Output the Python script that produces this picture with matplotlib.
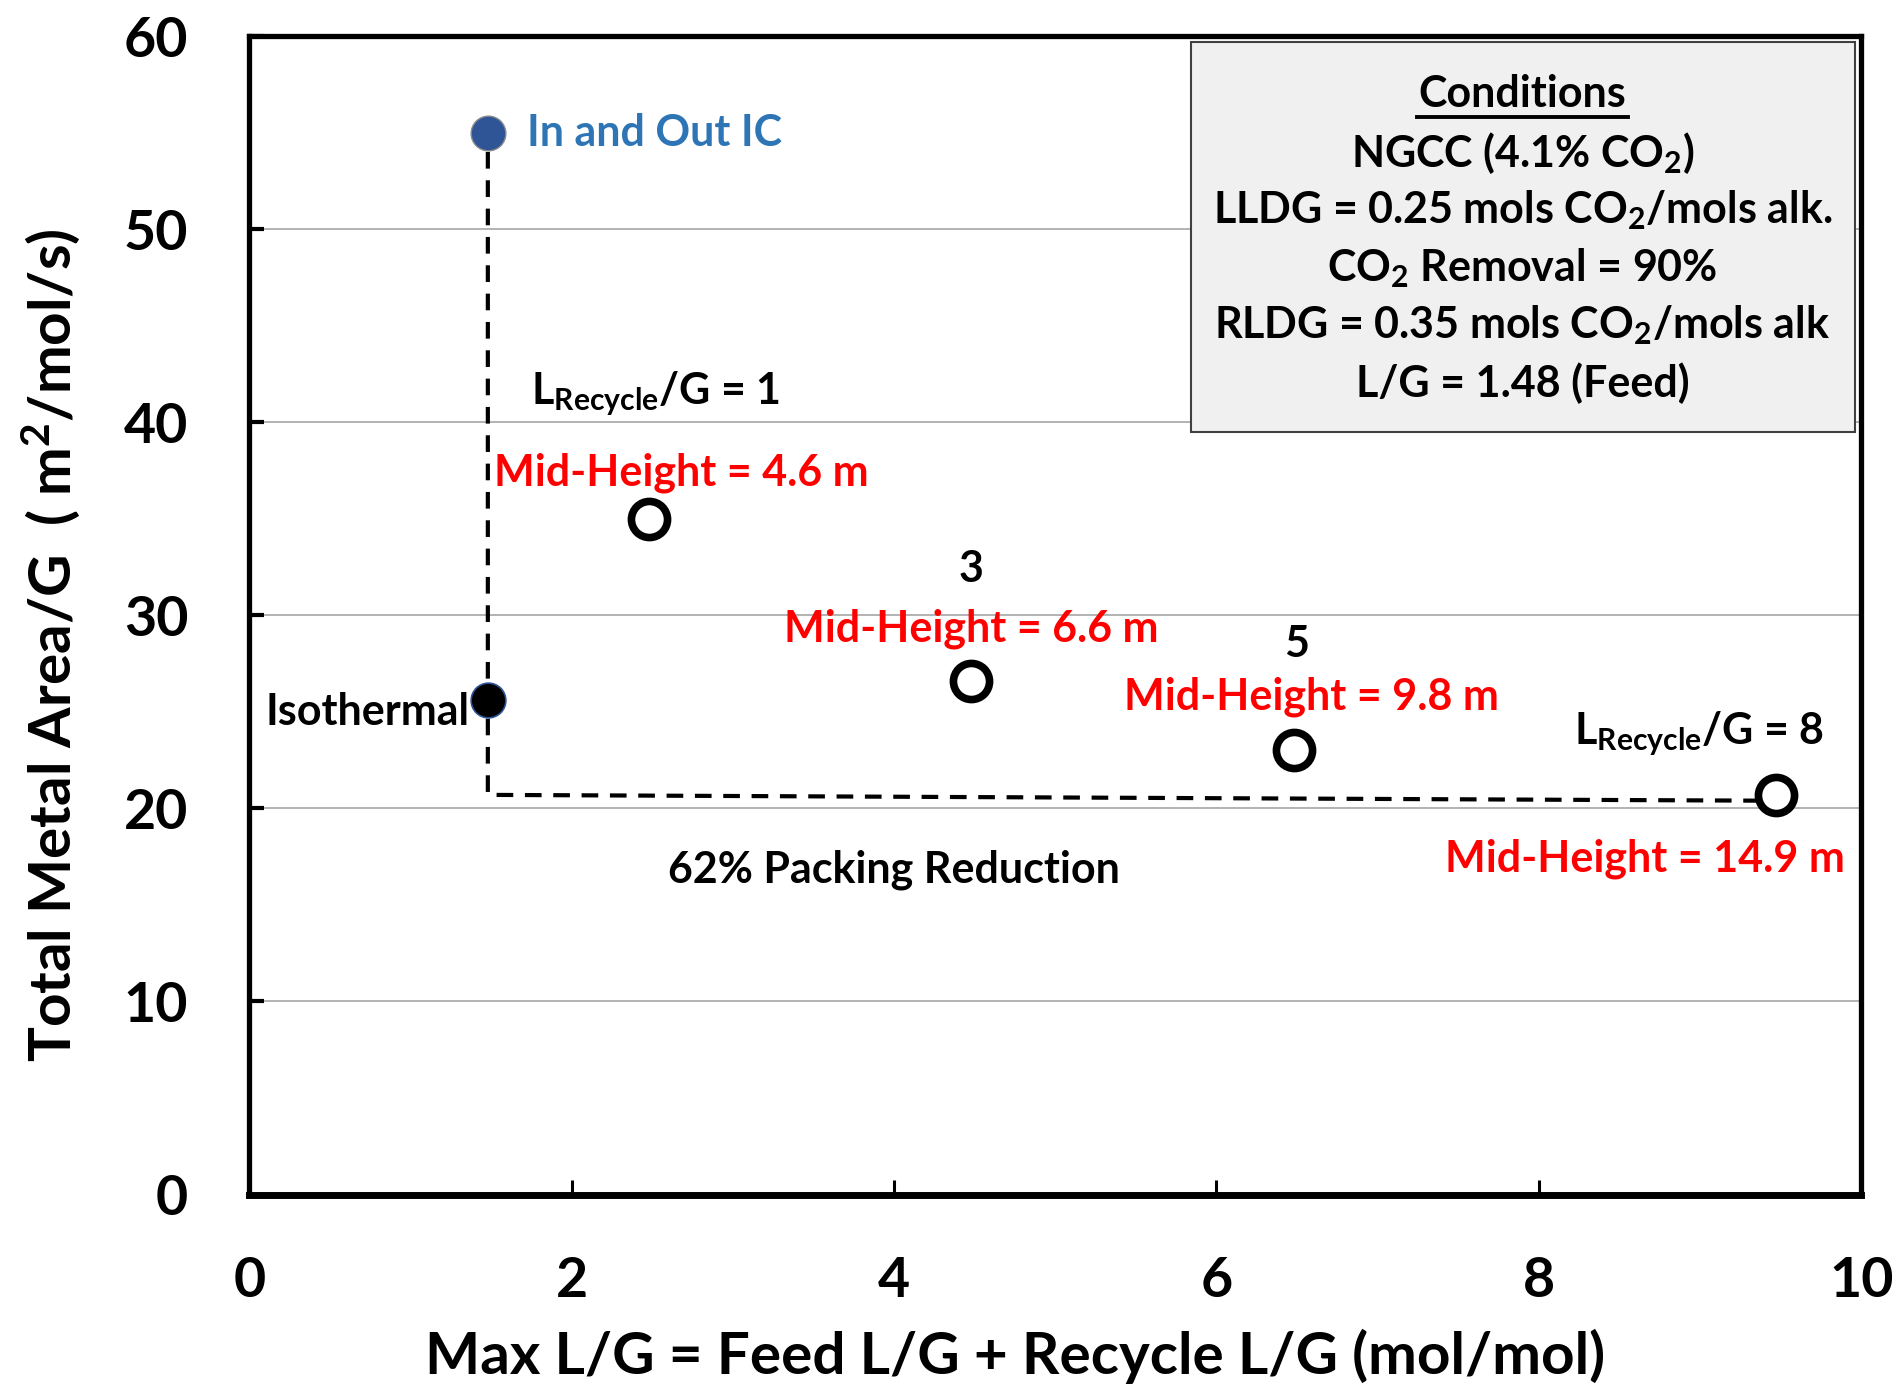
import matplotlib
matplotlib.use("Agg")
import matplotlib.pyplot as plt

plt.rcParams['font.family'] = ['Lato', 'DejaVu Sans']
plt.rcParams['font.weight'] = 'bold'
plt.rcParams['axes.labelweight'] = 'bold'
plt.rcParams['mathtext.default'] = 'regular'

# data
recycle_x = [2.48, 4.48, 6.48, 9.47]
recycle_y = [35.0, 26.6, 23.0, 20.7]
ic_x, ic_y = [1.48], [55.0]
iso_x, iso_y = [1.48], [25.6]
guide_x = [1.48, 1.48, 9.38]
guide_y = [54.0, 20.7, 20.4]

mid_labels = ['Mid-Height = 4.6 m', 'Mid-Height = 6.6 m', 'Mid-Height = 9.8 m', 'Mid-Height = 14.9 m']
xticks = [0, 2, 4, 6, 8, 10]
yticks = [0, 10, 20, 30, 40, 50, 60]
conditions = ['NGCC (4.1% CO$_2$)',
              'LLDG = 0.25 mols CO$_2$/mols alk.',
              'CO$_2$ Removal = 90%',
              'RLDG = 0.35 mols CO$_2$/mols alk',
              'L/G = 1.48 (Feed)']

fig = plt.figure(figsize=(19.03, 13.89), dpi=100)
ax = fig.add_axes([0.131, 0.140, 0.847, 0.834])

ax.set_xlim(0, 10)
ax.set_ylim(0, 60)
ax.set_xticks(xticks)
ax.set_yticks(yticks)
for y in yticks[1:-1]:
    ax.axhline(y, color='#a6a6a6', lw=1.2, zorder=0)

for s in ax.spines.values():
    s.set_linewidth(3.8)
ax.spines['bottom'].set_linewidth(5)

ax.tick_params(axis='y', direction='in', length=11, width=3, pad=44, labelsize=40)
ax.tick_params(axis='x', direction='in', length=11, width=2.2, pad=44, labelsize=40)

ax.plot(guide_x, guide_y, color='black', lw=3, ls=(0, (4, 2.8)), zorder=2)
ax.plot(recycle_x, recycle_y, 'o', ms=26, mfc='white', mec='black', mew=5.5, ls='none', zorder=3)
ax.plot(ic_x, ic_y, 'o', ms=25, mfc='#2f5597', mec='#8c8c8c', mew=1, zorder=3)
ax.plot(iso_x, iso_y, 'o', ms=25, mfc='black', mec='#2f5597', mew=1.2, zorder=3)

ax.set_xlabel('Max L/G = Feed L/G + Recycle L/G (mol/mol)', fontsize=42)
ax.set_ylabel('Total Metal Area/G  ( m$^{2}$/mol/s)', fontsize=42)
ax.xaxis.set_label_coords(0.475, -0.116)
ax.yaxis.set_label_coords(-0.104, 0.474)

fs = 31
ax.text(1.72, 55.0, 'In and Out IC', color='#2e75b6', fontsize=fs, va='center')
ax.text(1.37, 25.0, 'Isothermal', color='black', fontsize=fs, ha='right', va='center')
ax.text(1.75, 41.5, 'L$_{Recycle}$/G = 1', fontsize=fs, va='center')
ax.text(1.52, 37.4, mid_labels[0], color='red', fontsize=fs, va='center')
ax.text(4.48, 32.4, '3', fontsize=fs, ha='center', va='center')
ax.text(4.48, 29.3, mid_labels[1], color='red', fontsize=fs, ha='center', va='center')
ax.text(6.50, 28.5, '5', fontsize=fs, ha='center', va='center')
ax.text(6.59, 25.8, mid_labels[2], color='red', fontsize=fs, ha='center', va='center')
ax.text(8.22, 23.9, 'L$_{Recycle}$/G = 8', fontsize=fs, va='center')
ax.text(9.9, 17.4, mid_labels[3], color='red', fontsize=fs, ha='right', va='center')
ax.text(4.0, 16.8, '62% Packing Reduction', fontsize=fs, ha='center', va='center')

# conditions box
box = plt.Rectangle((0.584, 0.658), 0.412, 0.337, transform=ax.transAxes,
                    facecolor='#f0f0f0', edgecolor='#404040', lw=1.5, zorder=4)
ax.add_patch(box)
ax.text(0.790, 0.950, 'Conditions', transform=ax.transAxes, fontsize=fs,
        ha='center', va='center', zorder=5)
ax.plot([0.7245, 0.8555], [0.930, 0.930], transform=ax.transAxes, color='black', lw=2.8, zorder=5)
line_y = [0.899, 0.850, 0.800, 0.751, 0.700]
for t, y in zip(conditions, line_y):
    ax.text(0.790, y, t, transform=ax.transAxes, fontsize=fs, ha='center', va='center', zorder=5)

fig.savefig('out.png', dpi=100)
